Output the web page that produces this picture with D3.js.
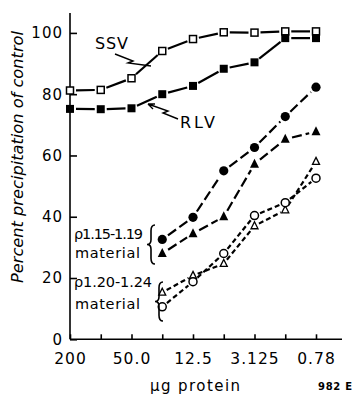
<!DOCTYPE html>
<html><head><meta charset="utf-8">
<script src="https://cdn.jsdelivr.net/npm/d3@7"></script>
<style>
html,body{margin:0;padding:0;background:#fff;}
svg{display:block;}
text{font-family:"DejaVu Sans",sans-serif;fill:#000;}
</style></head>
<body>
<script>
// ---- data ----
const doses = [200, 100, 50, 25, 12.5, 6.25, 3.125, 1.5625, 0.78125];
const doseLabels = ["200", "", "50.0", "", "12.5", "", "3.125", "", "0.78"];
const yTicks = [0, 20, 40, 60, 80, 100];
const ssv = [81.2, 81.4, 85.2, 94.1, 98, 100.2, 100.1, 100.5, 100.5];
const rlv = [75.2, 75.1, 75.4, 80, 82.7, 88.3, 90.4, 98.3, 98.3];
const rhoDoses = [25, 12.5, 6.25, 3.125, 1.5625, 0.78125];
const light1Circles = [32.6, 39.8, 55, 62.6, 72.7, 82.3];
const light1Triangles = [28, 34.5, 40, 57.2, 65.3, 67.8];
const heavyCircles = [10.6, 18.8, 28, 40.4, 44.6, 52.6];
const heavyTriangles = [15.3, 20.8, 24.7, 37, 42.2, 58];

const W = 354, H = 397;
const svg = d3.select("body").append("svg").attr("width", W).attr("height", H);

const x = d3.scaleLog().domain([200, 0.78125]).range([70, 316]);
const y = d3.scaleLinear().domain([0, 106.5]).range([339.3, 13]);

// ---- axes ----
const xAxis = d3.axisBottom(x).tickValues(doses)
  .tickFormat((d, i) => doseLabels[i]).tickSizeInner(-5).tickSizeOuter(0).tickPadding(14);
const gx = svg.append("g").attr("transform", `translate(0,${y(0)})`).call(xAxis);
gx.select(".domain").attr("d", `M${x.range()[0]},0H342`);
gx.selectAll("path,line").attr("stroke", "#000").attr("stroke-width", 1.6);
gx.selectAll("text").attr("font-size", 15.5).attr("letter-spacing", 1).attr("fill", "#000");

const yAxis = d3.axisLeft(y).tickValues(yTicks).tickSizeInner(-7).tickSizeOuter(0).tickPadding(7);
const gy = svg.append("g").attr("transform", `translate(${x.range()[0]},0)`).call(yAxis);
gy.select(".domain").attr("d", `M0,${y(106.5)}V${y(0)}`);
gy.selectAll("path,line").attr("stroke", "#000").attr("stroke-width", 1.6);
gy.selectAll("text").attr("font-size", 15).attr("letter-spacing", 1).attr("fill", "#000");

// ---- axis titles ----
svg.append("text").attr("transform", "translate(23,157) rotate(-90)")
  .attr("text-anchor", "middle").attr("font-style", "italic").attr("font-size", 15)
  .attr("textLength", 252).attr("lengthAdjust", "spacingAndGlyphs")
  .text("Percent precipitation of control");
svg.append("text").attr("x", 150).attr("y", 391).attr("font-size", 15)
  .attr("textLength", 90).attr("lengthAdjust", "spacing").text("μg protein");
svg.append("text").attr("x", 318).attr("y", 390).attr("font-size", 10).attr("font-weight", "bold")
  .attr("textLength", 34).text("982 E");

// ---- series ----
function drawSeries(xs, ys, marker, dash, gapR) {
  const pts = xs.map((d, i) => [x(d), y(ys[i])]);
  const g = svg.append("g");
  for (let i = 0; i < pts.length - 1; i++) {
    const [x0, y0] = pts[i], [x1, y1] = pts[i + 1];
    const dx = x1 - x0, dy = y1 - y0, L = Math.hypot(dx, dy);
    if (L <= 2 * gapR + 1) continue;
    const ux = dx / L, uy = dy / L;
    g.append("line")
      .attr("x1", x0 + ux * gapR).attr("y1", y0 + uy * gapR)
      .attr("x2", x1 - ux * gapR).attr("y2", y1 - uy * gapR)
      .attr("stroke", "#000").attr("stroke-width", 2.2)
      .attr("stroke-dasharray", dash);
  }
  pts.forEach(p => marker(g, p[0], p[1]));
}
const openSquare = (g, cx, cy) => g.append("rect").attr("x", cx - 3.5).attr("y", cy - 3.5)
  .attr("width", 7).attr("height", 7).attr("fill", "#fff").attr("stroke", "#000").attr("stroke-width", 1.5);
const fillSquare = (g, cx, cy) => g.append("rect").attr("x", cx - 4).attr("y", cy - 4)
  .attr("width", 8).attr("height", 8).attr("fill", "#000");
const fillCircle = (g, cx, cy) => g.append("circle").attr("cx", cx).attr("cy", cy).attr("r", 4.6).attr("fill", "#000");
const openCircle = (g, cx, cy) => g.append("circle").attr("cx", cx).attr("cy", cy).attr("r", 4)
  .attr("fill", "#fff").attr("stroke", "#000").attr("stroke-width", 1.5);
const triPath = s => `M0,${-s * 0.6}L${s / 2},${s * 0.4}L${-s / 2},${s * 0.4}Z`;
const fillTri = (g, cx, cy) => g.append("path").attr("d", triPath(9)).attr("transform", `translate(${cx},${cy})`).attr("fill", "#000");
const openTri = (g, cx, cy) => g.append("path").attr("d", triPath(7)).attr("transform", `translate(${cx},${cy})`)
  .attr("fill", "#fff").attr("stroke", "#000").attr("stroke-width", 1.3);

drawSeries(doses, ssv, openSquare, null, 6);
drawSeries(doses, rlv, fillSquare, null, 6);
drawSeries(rhoDoses, light1Circles, fillCircle, "10,4", 7);
drawSeries(rhoDoses, light1Triangles, fillTri, "10,4", 7);
drawSeries(rhoDoses, heavyTriangles, openTri, "5,3", 5);
drawSeries(rhoDoses, heavyCircles, openCircle, "5,3", 6);

// ---- annotations ----
svg.append("text").attr("x", 95).attr("y", 49).attr("font-size", 16).attr("textLength", 33).text("SSV");
svg.append("text").attr("x", 180).attr("y", 128).attr("font-size", 16).attr("textLength", 35).text("RLV");
const ann = svg.append("g").attr("fill", "none").attr("stroke", "#000").attr("stroke-width", 1.4);
ann.append("path").attr("d", "M115,54 L133,61 L128,63 L151,66");
ann.append("path").attr("d", "M178,119 L163,113 L168,111 L148,104 M148,104 l7,0 M148,104 l5,5");

const labelSize = 14.5;
svg.append("text").attr("x", 74).attr("y", 239).attr("font-size", labelSize).attr("textLength", 69).text("ρ1.15-1.19");
svg.append("text").attr("x", 75).attr("y", 258).attr("font-size", labelSize).attr("textLength", 65).text("material");
svg.append("text").attr("x", 74).attr("y", 287).attr("font-size", labelSize).attr("textLength", 78).text("ρ1.20-1.24");
svg.append("text").attr("x", 75).attr("y", 309).attr("font-size", labelSize).attr("textLength", 65).text("material");

function brace(x0, y0, y1, w) {
  const h = y1 - y0, ym = (y0 + y1) / 2, xm = x0 + w / 2;
  return `M${x0 + w},${y0} Q${xm},${y0} ${xm},${y0 + h * 0.15} L${xm},${ym - h * 0.12} Q${xm},${ym} ${x0},${ym}` +
         ` Q${xm},${ym} ${xm},${ym + h * 0.12} L${xm},${y1 - h * 0.15} Q${xm},${y1} ${x0 + w},${y1}`;
}
ann.append("path").attr("d", brace(147, 225, 264, 8)).attr("stroke-width", 1.6);
ann.append("path").attr("d", brace(155, 282, 321, 8)).attr("stroke-width", 1.6);
</script>
</body></html>
